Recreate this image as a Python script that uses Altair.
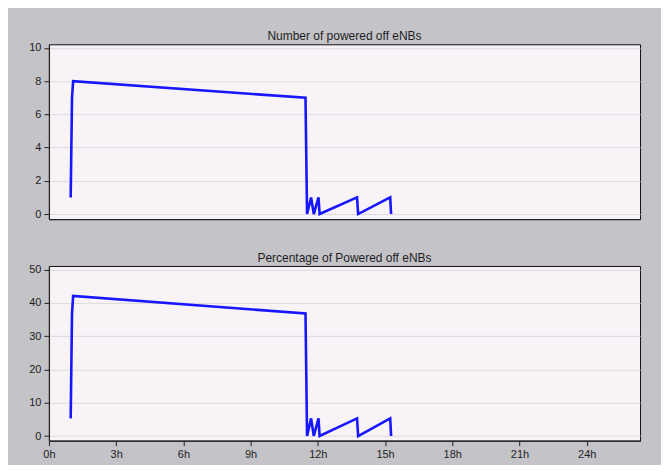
import altair as alt
import pandas as pd

# Data
hours = [0.97, 1.03, 1.08, 11.45, 11.52, 11.70, 11.82, 12.03, 12.08, 13.75, 13.80, 15.23, 15.27]
counts = [1, 7, 8, 7, 0, 1, 0, 1, 0, 1, 0, 1, 0]
percent = [5.3, 36.8, 42.1, 36.8, 0, 5.3, 0, 5.3, 0, 5.3, 0, 5.3, 0]
x_ticks = [0, 3, 6, 9, 12, 15, 18, 21, 24]
count_ticks = [0, 2, 4, 6, 8, 10]
pct_ticks = [0, 10, 20, 30, 40, 50]

df = pd.DataFrame({"t": hours, "n": counts, "p": percent})

FONT = "Liberation Sans"
LINE = "#1616ff"


def panel(field, title, ydomain, yticks, show_x):
    if show_x:
        xaxis = alt.Axis(values=x_ticks, labelExpr="datum.value + 'h'", grid=False,
                         title=None, tickSize=5, labelPadding=3, labelFlush=False)
    else:
        xaxis = alt.Axis(values=x_ticks, labels=False, ticks=False, grid=False, title=None)
    return alt.Chart(df).mark_line(color=LINE, strokeWidth=2.6, clip=True).encode(
        x=alt.X("t:Q", scale=alt.Scale(domain=[0, 26.38], nice=False, zero=False), axis=xaxis),
        y=alt.Y(f"{field}:Q", scale=alt.Scale(domain=ydomain, nice=False, zero=False),
                axis=alt.Axis(values=yticks, title=None, grid=True, tickSize=5, labelPadding=3,
                              labelFlush=False)),
    ).properties(
        width=592, height=175,
        title=alt.TitleParams(title, fontSize=12, font=FONT, fontWeight="normal",
                              color="#1e1e1e", anchor="middle", offset=-1),
    )


top = panel("n", "Number of powered off eNBs", [-0.3, 10.22], count_ticks, False)
bottom = panel("p", "Percentage of Powered off eNBs", [-1.4, 51.1], pct_ticks, True)

chart = alt.vconcat(top, bottom, spacing=31).properties(
    background="#c4c3c7",
    padding={"left": 20, "top": 21, "right": 20, "bottom": 4},
).configure_view(
    fill="#f7f3f7", stroke="#111111", strokeWidth=1
).configure_axis(
    labelFont=FONT, labelFontSize=11, labelColor="#1e1e1e",
    domainColor="#222222", tickColor="#222222", gridColor="#dedade",
    domainWidth=1.2,
)

chart.save("out.html", embed_options={"renderer": "svg", "actions": False})
